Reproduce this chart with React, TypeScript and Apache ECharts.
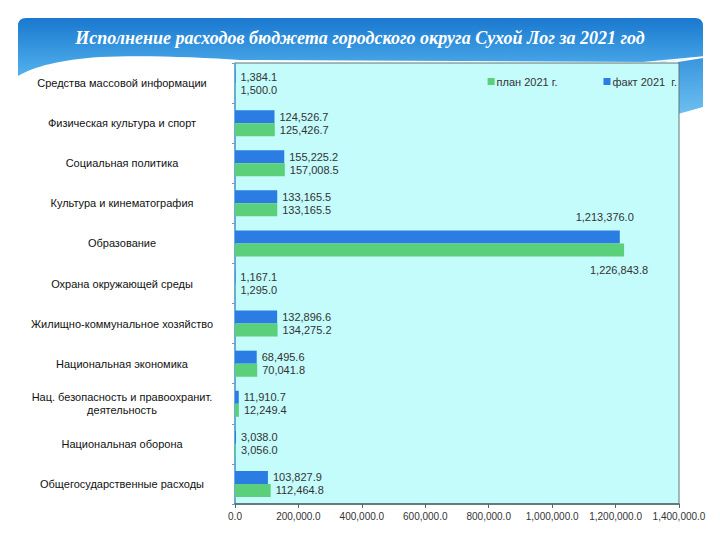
import React, { useEffect, useRef } from "react";
import * as echarts from "echarts";

const categories = [
  "Средства массовой информации",
  "Физическая культура и спорт",
  "Социальная политика",
  "Культура и кинематография",
  "Образование",
  "Охрана окружающей среды",
  "Жилищно-коммунальное хозяйство",
  "Национальная экономика",
  "Нац. безопасность и правоохранит.\nдеятельность",
  "Национальная оборона",
  "Общегосударственные расходы",
];
const factValues = [1384.1, 124526.7, 155225.2, 133165.5, 1213376.0, 1167.1, 132896.6, 68495.6, 11910.7, 3038.0, 103827.9];
const planValues = [1500.0, 125426.7, 157008.5, 133165.5, 1226843.8, 1295.0, 134275.2, 70041.8, 12249.4, 3056.0, 112464.8];
const seriesNames = ["план 2021 г.", "факт 2021  г."];
const titleParts = ["Исполнение расходов бюджета городского округа Сухой Лог за ", "2021", " год"];
const xMax = 1400000;
const xStep = 200000;

const fmt = (v: number) =>
  v.toLocaleString("en-US", { minimumFractionDigits: 1, maximumFractionDigits: 1 });

const bandPath =
  "M26,18 L695,18 Q703,18 703,26 L703,57 L660,62 L240,60 C200,57 140,55 100,57 C60,60 35,66 18,76 L18,26 Q18,18 26,18 Z";
echarts.graphic.registerShape("band", echarts.graphic.extendPath(bandPath, {}) as any);

export default function App() {
  const ref = useRef<HTMLDivElement>(null);
  useEffect(() => {
    if (!ref.current) return;
    const chart = echarts.init(ref.current, undefined, { renderer: "svg" });
    const bigIdx = 4;
    const factData = factValues.map((v, i) =>
      i === bigIdx
        ? { value: v, label: { position: ["100%", 0], align: "right", verticalAlign: "middle", offset: [14, -13] } }
        : v
    );
    const planData = planValues.map((v, i) =>
      i === bigIdx
        ? { value: v, label: { position: ["100%", "100%"], align: "right", verticalAlign: "middle", offset: [24, 14] } }
        : v
    );
    const labelStyle = {
      show: true,
      position: "right",
      distance: 5,
      color: "#333",
      fontSize: 11,
      fontFamily: "Liberation Sans",
      formatter: (p: any) => fmt(p.value),
    };
    chart.setOption({
      animation: false,
      backgroundColor: "#ffffff",
      title: {
        text: `{a|${titleParts[0]}}{b|${titleParts[1]}}{a|${titleParts[2]}}`,
        left: "center",
        top: 24,
        textStyle: {
          rich: {
            a: { color: "#fff", fontSize: 18, fontStyle: "italic", fontFamily: "Liberation Serif" },
            b: { color: "#fff", fontSize: 18, fontStyle: "italic", fontWeight: "bold", fontFamily: "Liberation Serif" },
          },
        },
      },
      graphic: [
        {
          type: "band",
          x: 0,
          y: 0,
          z: -10,
          style: {
            fill: new echarts.graphic.LinearGradient(0, 0, 0, 1, [
              { offset: 0, color: "#1a78cf" },
              { offset: 1, color: "#52b2ec" },
            ]),
          },
        },
        {
          type: "polygon",
          z: -10,
          shape: { points: [[678, 62], [703, 58], [703, 107], [678, 114]] },
          style: {
            fill: new echarts.graphic.LinearGradient(0, 0, 0, 1, [
              { offset: 0, color: "#3a95de" },
              { offset: 1, color: "#6cc0f0" },
            ]),
          },
        },
        {
          type: "line",
          z: -9,
          shape: { x1: 640, y1: 63, x2: 703, y2: 57 },
          style: { stroke: "#ffffff", lineWidth: 1.5 },
        },
      ],
      legend: {
        data: seriesNames,
        top: 71,
        right: 38,
        icon: "rect",
        itemWidth: 7,
        itemHeight: 7,
        itemGap: 46,
        textStyle: { color: "#333", fontSize: 11, fontFamily: "Liberation Sans", padding: [0, 0, 0, -3] },
      },
      grid: {
        left: 235,
        right: 41,
        top: 63,
        bottom: 36,
        show: true,
        backgroundColor: "#c4fbfb",
        borderColor: "#5f7777",
        borderWidth: 1,
        containLabel: false,
      },
      xAxis: {
        type: "value",
        min: 0,
        max: xMax,
        interval: xStep,
        splitLine: { show: false },
        axisLine: { show: true, lineStyle: { color: "#4f6a6a", width: 1.5 } },
        axisTick: { show: true, length: 4, lineStyle: { color: "#4f6a6a" } },
        axisLabel: {
          color: "#333",
          fontSize: 10,
          fontFamily: "Liberation Sans",
          margin: 7,
          formatter: (v: number) => fmt(v),
        },
      },
      yAxis: {
        type: "category",
        inverse: true,
        data: categories,
        axisLine: { show: true, lineStyle: { color: "#5aa6dc", width: 1.5 } },
        axisTick: { show: true, length: 3, lineStyle: { color: "#6c9cc0" } },
        axisLabel: {
          align: "center",
          margin: 113,
          color: "#111",
          fontSize: 11,
          lineHeight: 13,
          fontFamily: "Liberation Sans",
        },
      },
      series: [
        {
          name: seriesNames[1],
          type: "bar",
          data: factData,
          barWidth: 13,
          barGap: "0%",
          itemStyle: { color: "#2b7ce3" },
          label: labelStyle,
        },
        {
          name: seriesNames[0],
          type: "bar",
          data: planData,
          barWidth: 13,
          barGap: "0%",
          itemStyle: { color: "#5bd07a" },
          label: labelStyle,
        },
      ],
    });
    return () => chart.dispose();
  }, []);
  return <div ref={ref} style={{ width: 720, height: 540, position: "absolute", left: 0, top: 0 }} />;
}
